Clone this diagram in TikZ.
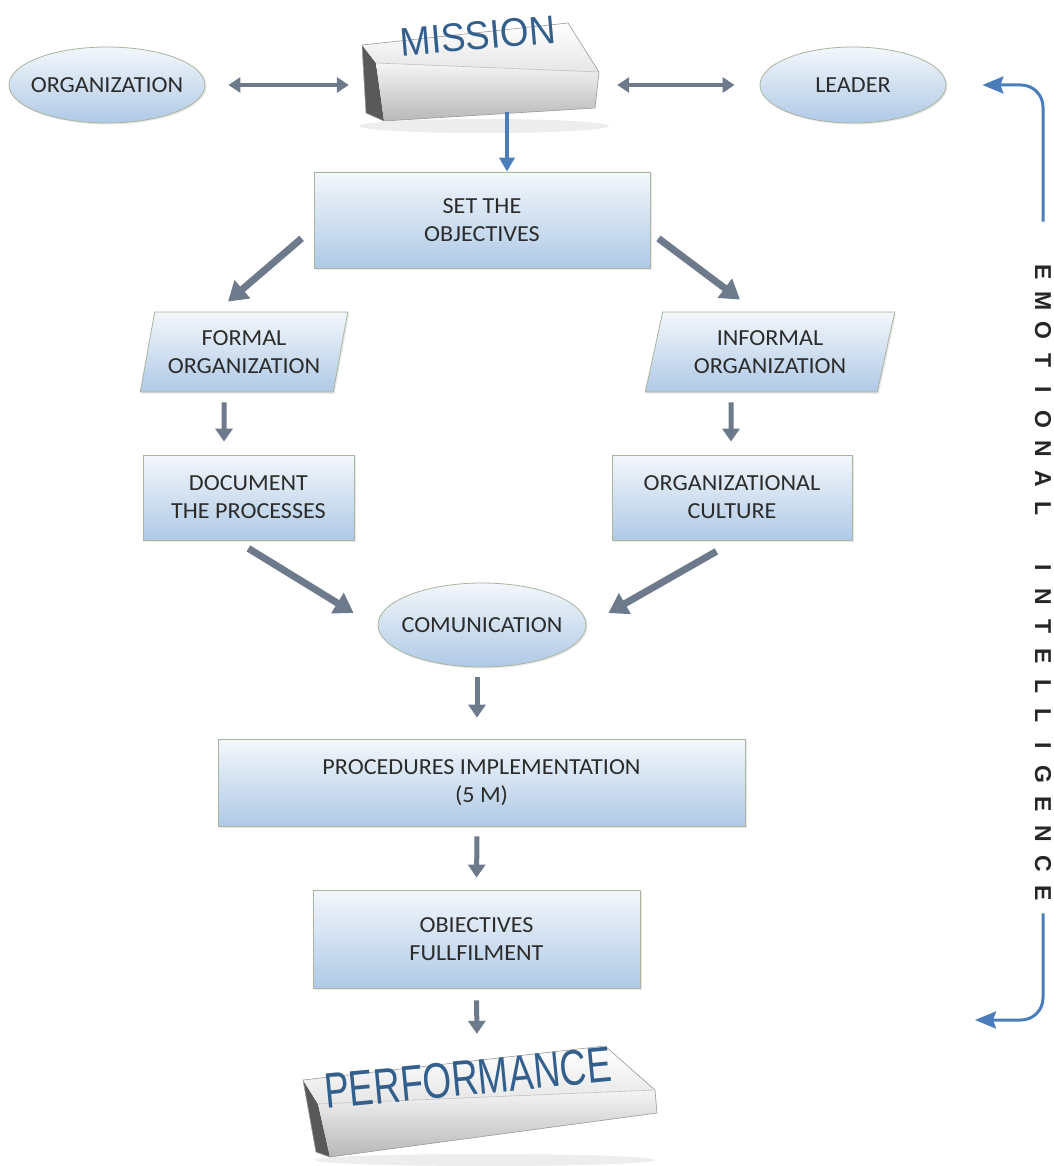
\documentclass[tikz,border=0pt]{standalone}
\usepackage{fontspec}
\setmainfont{Carlito}[FakeStretch=1.05]
\newfontfamily\arialfont{Liberation Sans}
\newfontfamily\missionfont{Liberation Sans}[FakeStretch=0.92]
\newfontfamily\perffont{Liberation Sans}[FakeStretch=0.74]
\usetikzlibrary{arrows.meta,shapes.geometric,shadows}
\definecolor{boxtop}{HTML}{F3F7FB}
\definecolor{boxbot}{HTML}{AFC9E6}
\definecolor{boxline}{HTML}{A9B59E}
\definecolor{txt}{HTML}{2C2C2C}
\definecolor{garr}{HTML}{6C7A8B}
\definecolor{barr}{HTML}{4A7DBA}
\definecolor{mblue}{HTML}{335F8C}
\newcommand\lsp[1]{\makebox[29.6pt]{#1}}
\begin{document}
\begin{tikzpicture}[x=1pt, y=-1pt,
  every node/.style={text=txt, font=\fontsize{23}{28}\selectfont},
  shadedbox/.style={draw=boxline, line width=0.8pt, top color=boxtop, bottom color=boxbot, align=center,
    drop shadow={shadow xshift=1.5pt, shadow yshift=-1.5pt, opacity=0.18}},
  rectbox/.style={shadedbox, rectangle, inner sep=0pt},
  ellbox/.style={shadedbox, ellipse, inner sep=0pt},
  parbox/.style={shadedbox, trapezium, trapezium left angle=74, trapezium right angle=106,
    trapezium stretches=true, inner sep=0pt},
  garrow/.style={draw=garr, line width=5pt, -{Triangle[width=17pt,length=13pt]}},
  gdouble/.style={draw=garr, line width=4.5pt, {Triangle[width=15pt,length=12pt]}-{Triangle[width=15pt,length=12pt]}},
  gbig/.style={draw=garr, line width=7pt, -{Triangle[width=23pt,length=19pt]}},
  barrow/.style={draw=barr, line width=3pt, -{Stealth[width=17pt,length=21pt,inset=3pt]}},
  bline/.style={draw=barr, line width=4pt, -{Triangle[width=15pt,length=14pt]}},
  ghost/.style={inner sep=0pt, draw=none}
]
\useasboundingbox (0,0) rectangle (1053,1166);
\fill[white] (0,0) rectangle (1053,1166);

% ---------- MISSION block ----------
\fill[gray!40, opacity=0.35] (484,126) ellipse [x radius=125, y radius=7];
\fill[black!65] (362,45) -- (376,63) -- (384,121) -- (366,113) -- cycle;
\shade[top color=white, bottom color=black!10] (362,45) -- (568,23) -- (599,72) -- (376,63) -- cycle;
\shade[top color=black!4, bottom color=black!28] (376,63) -- (599,72) -- (595,108) -- (384,121) -- cycle;
\draw[black!40, line width=0.6pt] (362,45) -- (568,23) -- (599,72) -- (595,108) -- (384,121) -- (366,113) -- cycle;
\draw[black!25, line width=0.6pt] (376,63) -- (599,72);
\node[ghost, minimum width=250, minimum height=100] (mission) at (484,72) {};
\node[font=\missionfont\fontsize{40}{40}\selectfont, text=mblue, rotate=5] (missiontext) at (478,36) {MISSION};

% ---------- PERFORMANCE block ----------
\fill[gray!40, opacity=0.35] (485,1160) ellipse [x radius=170, y radius=6];
\fill[black!65] (303,1080) -- (318,1104) -- (330,1157) -- (316,1152) -- cycle;
\shade[top color=white, bottom color=black!10] (303,1080) -- (605,1046) -- (655,1090) -- (318,1104) -- cycle;
\shade[top color=black!4, bottom color=black!28] (318,1104) -- (655,1090) -- (657,1113) -- (330,1157) -- cycle;
\draw[black!40, line width=0.6pt] (303,1080) -- (605,1046) -- (655,1090) -- (657,1113) -- (330,1157) -- (316,1152) -- cycle;
\draw[black!25, line width=0.6pt] (318,1104) -- (655,1090);
\node[ghost, minimum width=360, minimum height=112] (perf) at (480,1102) {};
\node[font=\perffont\fontsize{50}{50}\selectfont, text=mblue, rotate=5.5] (perftext) at (468,1078) {PERFORMANCE};

% ---------- nodes ----------
\node[ellbox, minimum width=196, minimum height=76] (org) at (107,85) {\makebox[0pt]{ORGANIZATION}};
\node[ellbox, minimum width=186, minimum height=76] (leader) at (853,85) {\makebox[0pt]{LEADER}};
\node[rectbox, minimum width=336, minimum height=96] (set) at (482,220) {SET THE\\OBJECTIVES};
\node[parbox, minimum width=208, minimum height=80] (formal) at (244,352) {FORMAL\\ORGANIZATION};
\node[parbox, minimum width=250, minimum height=80] (informal) at (770,352) {INFORMAL\\ORGANIZATION};
\node[rectbox, minimum width=211, minimum height=85] (document) at (248.5,497.5) {DOCUMENT\\THE PROCESSES};
\node[rectbox, minimum width=240, minimum height=85] (culture) at (732,497.5) {ORGANIZATIONAL\\CULTURE};
\node[ellbox, minimum width=208, minimum height=84] (comm) at (482,625) {\makebox[0pt]{COMUNICATION}};
\node[rectbox, minimum width=527, minimum height=87] (proc) at (481.5,782.5) {PROCEDURES IMPLEMENTATION\\(5 M)};
\node[rectbox, minimum width=327, minimum height=98] (obj) at (476.5,939) {OBIECTIVES\\FULLFILMENT};

% ---------- vertical label ----------
\node[rotate=-90, inner sep=0pt, font=\arialfont\bfseries\fontsize{23}{23}\selectfont, text=black!85] (ei) at (1043,582.5)
  {\lsp{E}\lsp{M}\lsp{O}\lsp{T}\lsp{I}\lsp{O}\lsp{N}\lsp{A}\lsp{L}\lsp{~}\lsp{I}\lsp{N}\lsp{T}\lsp{E}\lsp{L}\lsp{L}\lsp{I}\lsp{G}\lsp{E}\lsp{N}\lsp{C}\lsp{E}};
\coordinate (eiend) at (975,1020);

% ---------- connectors ----------
\draw[gdouble, shorten <=23pt, shorten >=10pt] (org.east) -- (org.east -| mission.west);
\draw[gdouble, shorten <=8pt, shorten >=25pt] (leader.west -| mission.east) -- (leader.west);
\draw[bline] ([xshift=25pt]set.north |- mission.south) ++(0,-10) -- ([xshift=25pt]set.north);
\draw[gbig] ([xshift=-12pt, yshift=30pt]set.south west) -- ([xshift=-16pt, yshift=10pt]formal.north);
\draw[gbig] ([xshift=8pt, yshift=30pt]set.south east) -- ([xshift=-30pt, yshift=12pt]informal.north);
\draw[garrow, shorten <=10pt, shorten >=13pt] ([xshift=-20pt]formal.south) -- ([xshift=-24.5pt]document.north);
\draw[garrow, shorten <=10pt, shorten >=13pt] ([xshift=-39pt]informal.south) -- ([xshift=-1pt]culture.north);
\draw[gbig] ([xshift=-106pt, yshift=-8pt]document.south east) -- ([xshift=-24pt, yshift=12pt]comm.west);
\draw[gbig] ([xshift=-136pt, yshift=-11pt]culture.south east) -- ([xshift=22pt, yshift=12pt]comm.east);
\draw[garrow, shorten <=10pt, shorten >=21pt] ([xshift=-5pt]comm.south) -- ([xshift=-4.5pt]proc.north);
\draw[garrow, shorten <=10pt, shorten >=12pt] ([xshift=-4.5pt]proc.south) -- (obj.north);
\draw[garrow, shorten <=12pt, shorten >=12pt] (obj.south) -- ([xshift=-3pt]perf.north);
\draw[barrow, rounded corners=22pt] ([yshift=35pt]ei.west) |- ([xshift=36pt]leader.east);
\draw[barrow, rounded corners=22pt] ([yshift=-5pt]ei.east) |- (eiend);
\end{tikzpicture}
\end{document}
